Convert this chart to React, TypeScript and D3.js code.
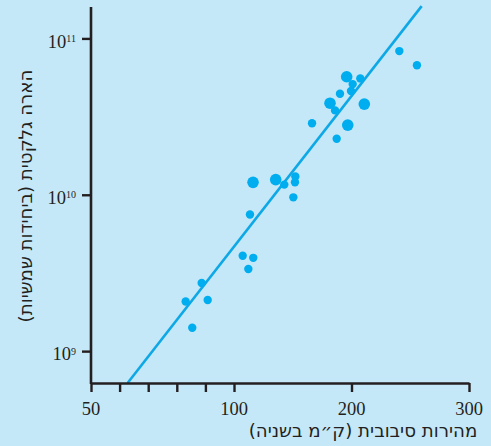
import React, { useEffect, useRef } from 'react'
import * as d3 from 'd3'

type TPoint = { speed: number; lum: number; big?: boolean }

// rotation speed (km/s) per galaxy
const speeds = [
  107.4, 116.4, 112.2, 88.7, 83.1, 90.8, 85.4,
  116.2, 135.5, 142.8, 152.2, 151.9, 150.5, 113.6,
  195.9, 207.5, 201.0, 199.6, 190.2, 181.7, 210.9, 186.0, 166.4, 196.8, 187.4,
  240.7, 255.7,
]
// luminosity (solar units)
const luminosities = [
  4.1e9, 3.98e9, 3.38e9, 2.75e9, 2.09e9, 2.14e9, 1.42e9,
  1.21e10, 1.26e10, 1.17e10, 1.32e10, 1.21e10, 9.7e9, 7.53e9,
  5.73e10, 5.59e10, 5.14e10, 4.64e10, 4.46e10, 3.88e10, 3.83e10, 3.49e10, 2.89e10, 2.81e10, 2.3e10,
  8.36e10, 6.79e10,
]
// which points are drawn as larger dots
const bigDots = [7, 8, 14, 19, 20, 23]

const fitSpeeds = [62.8, 259.7]
const fitLums = [6.3e8, 1.62e11]

const xTicks = [50, 60, 70, 80, 90, 100, 200, 300]
const xLabels = [50, 100, 200, 300]
const yTicks = [1e9, 1e10, 1e11]
const yExps = ['9', '10', '11']

const xTitle = 'מהירות סיבובית (ק״מ בשניה)'
const yTitle = 'הארה גלקטית (ביחידות שמשיות)'

const W = 491
const H = 446
const BG = '#c5e8f9'
const DOT = '#00adef'
const INK = '#231f20'

const App = (): JSX.Element => {
  const ref = useRef<SVGSVGElement>(null)

  useEffect(() => {
    const svg = d3.select(ref.current)
    svg.selectAll('*').remove()

    svg.append('rect').attr('width', W).attr('height', H).attr('fill', BG)

    // the axis is stretched between 50 and 100
    const x = d3.scaleLinear().domain([50, 100, 300]).range([91, 234, 469])
    const y = d3.scaleLog().domain([6.3e8, 1.6e11]).range([383, 7])

    const data: TPoint[] = speeds.map((s, i) => ({
      speed: s,
      lum: luminosities[i],
      big: bigDots.includes(i),
    }))

    // fit line
    const fit = fitSpeeds.map((s, i) => ({ speed: s, lum: fitLums[i] }))
    svg
      .append('path')
      .datum(fit)
      .attr('fill', 'none')
      .attr('stroke', '#0ea8e6')
      .attr('stroke-width', 2.6)
      .attr(
        'd',
        d3
          .line<{ speed: number; lum: number }>()
          .x(d => x(d.speed))
          .y(d => y(d.lum)),
      )

    svg
      .append('g')
      .selectAll('circle')
      .data(data)
      .join('circle')
      .attr('cx', d => x(d.speed))
      .attr('cy', d => y(d.lum))
      .attr('r', d => (d.big ? 5.8 : 4.2))
      .attr('fill', DOT)

    // x axis
    const xAxis = d3
      .axisBottom(x)
      .tickValues(xTicks)
      .tickSize(9)
      .tickSizeOuter(0)
      .tickFormat(() => '')
    svg
      .append('g')
      .attr('transform', 'translate(0,383)')
      .call(xAxis)
      .call(g => {
        g.select('.domain').attr('stroke', INK).attr('stroke-width', 2.6)
        g.selectAll('.tick line').attr('stroke', INK).attr('stroke-width', 2.4)
      })
    svg
      .append('g')
      .selectAll('text')
      .data(xLabels)
      .join('text')
      .attr('x', d => x(d))
      .attr('y', 415)
      .attr('text-anchor', 'middle')
      .attr('font-family', '"Liberation Serif", serif')
      .attr('font-size', 18.5)
      .attr('fill', INK)
      .text(d => d)

    // y axis
    svg
      .append('line')
      .attr('x1', 91)
      .attr('x2', 91)
      .attr('y1', y(1.6e11))
      .attr('y2', 384)
      .attr('stroke', INK)
      .attr('stroke-width', 2.6)
    svg
      .append('g')
      .selectAll('line')
      .data(yTicks)
      .join('line')
      .attr('x1', 82)
      .attr('x2', 91)
      .attr('y1', d => y(d))
      .attr('y2', d => y(d))
      .attr('stroke', INK)
      .attr('stroke-width', 2.4)
    const yl = svg
      .append('g')
      .selectAll('text')
      .data(yTicks)
      .join('text')
      .attr('x', 76)
      .attr('y', d => y(d) + 8.8)
      .attr('text-anchor', 'end')
      .attr('font-family', '"Liberation Serif", serif')
      .attr('font-size', 18.5)
      .attr('fill', INK)
    yl.append('tspan').text('10')
    yl.append('tspan')
      .attr('font-size', 10)
      .attr('dy', -5.8)
      .text((d, i) => yExps[i])

    // titles
    svg
      .append('text')
      .attr('x', 363)
      .attr('y', 437)
      .attr('text-anchor', 'middle')
      .attr('font-family', '"DejaVu Sans", sans-serif')
      .attr('font-size', 18.2)
      .attr('fill', INK)
      .text(xTitle)
    svg
      .append('text')
      .attr('transform', 'translate(31.5,196) rotate(-90)')
      .attr('text-anchor', 'middle')
      .attr('font-family', '"DejaVu Sans", sans-serif')
      .attr('font-size', 18.2)
      .attr('fill', INK)
      .text(yTitle)
  }, [])

  return (
    <svg
      ref={ref}
      width={W}
      height={H}
      style={{ position: 'absolute', left: 0, top: 0, display: 'block' }}
    />
  )
}

export default App
